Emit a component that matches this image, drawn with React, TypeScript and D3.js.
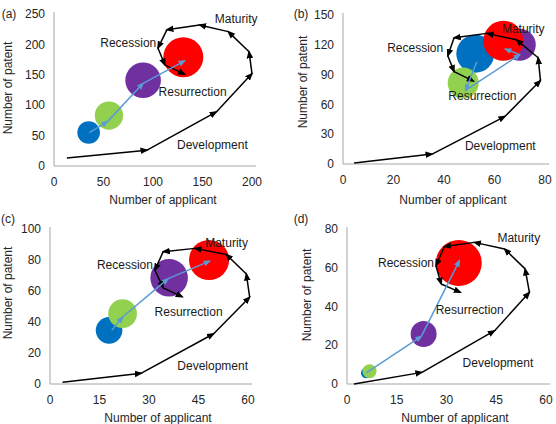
import React from "react";
import * as d3 from "d3";

// ---- data ----
type Pt = [number, number];
type Bubble = [number, number, number]; // x, y, size

const stageNames = ["Maturity", "Recession", "Resurrection", "Development"];
const bubbleColors = ["#0070c0", "#92d050", "#7030a0", "#ff0000"];

// panel (a)
const aXTicks = [0, 50, 100, 150, 200];
const aYTicks = [0, 50, 100, 150, 200, 250];
const aCycle: Pt[] = [[13, 13], [94, 26], [164, 89], [200, 152], [197, 188], [176, 221], [147, 232], [114, 224], [105, 194], [112, 166], [132, 151]];
const aBubbles: Bubble[] = [[35, 55, 128], [55.5, 83, 200], [90, 141, 317], [130.6, 179, 400]];
const aTrend: Pt[] = [[35.7, 55], [54, 73], [90, 136], [132, 173]];
const aLabels: Pt[] = [[184, 242], [75, 202], [140, 122], [160, 35]];

// panel (b)
const bXTicks = [0, 20, 40, 60, 80];
const bYTicks = [0, 30, 60, 90, 120, 150];
const bCycle: Pt[] = [[4.4, 1], [35.3, 10], [64.2, 48], [78.2, 84], [77.3, 107], [68.7, 125], [57, 131.5], [44, 127], [41.5, 109], [44, 93], [51.7, 83.5]];
const bBubbles: Bubble[] = [[52.4, 111, 361], [47.6, 81.5, 240], [70, 120, 256], [63.5, 124, 400]];
const bTrend: Pt[] = [[53, 103], [48.5, 74], [70, 110], [64.3, 115.8]];
const bLabels: Pt[] = [[71.4, 136], [28.6, 117], [55.2, 69], [62.3, 18.4]];

// panel (c)
const cXTicks = [0, 15, 30, 45, 60];
const cYTicks = [0, 20, 40, 60, 80, 100];
const cCycle: Pt[] = [[3.8, 1.1], [27.7, 7], [49.6, 32.4], [60.5, 56], [59.5, 71], [53.4, 83.6], [43.9, 87.5], [34.3, 85.4], [31.8, 73.5], [34.3, 62], [40.1, 56.2]];
const cBubbles: Bubble[] = [[17.9, 34.6, 177], [22, 45.4, 205], [36.1, 68.5, 353], [48.2, 80, 400]];
const cTrend: Pt[] = [[18.7, 34.6], [22, 43.2], [35.8, 68], [48.4, 79.3]];
const cLabels: Pt[] = [[53.5, 91.2], [22.7, 76.9], [42, 46.5], [49.3, 11.5]];

// panel (d)
const dXTicks = [0, 15, 30, 45, 60];
const dYTicks = [0, 20, 40, 60, 80];
const dCycle: Pt[] = [[2.1, 0], [22.6, 6], [44.5, 27.5], [55, 47.3], [53.7, 59.4], [47.5, 69.7], [38.4, 73.1], [29.4, 71], [26.8, 61.1], [28.4, 51.6], [34.2, 47.3]];
const dBubbles: Bubble[] = [[5.8, 5.7, 28], [6.8, 6.6, 49], [23.1, 25.8, 169], [33.7, 62.5, 529]];
const dTrend: Pt[] = [[5.8, 5.7], [22.4, 24.6], [33.9, 63.7]];
const dLabels: Pt[] = [[51.8, 75.7], [17.8, 62.8], [37, 38.5], [45.5, 11.2]];

const FONT = "'Liberation Sans', Arial, sans-serif";

type PanelProps = {
  tag: string;
  tagPos: Pt;
  left: number; right: number; top: number; bottom: number;
  xTicks: number[]; yTicks: number[];
  cycle: Pt[]; bubbles: Bubble[]; trend: Pt[]; labels: Pt[];
  yTitleX: number; yTitleY: number; xTitleX: number; xTitleY: number;
};

const Panel = (p: PanelProps) => {
  const x = d3.scaleLinear().domain([0, p.xTicks[p.xTicks.length - 1]]).range([p.left, p.right]);
  const y = d3.scaleLinear().domain([0, p.yTicks[p.yTicks.length - 1]]).range([p.bottom, p.top]);
  const r = d3.scaleSqrt().domain([0, 529]).range([0, 23]);
  const segs = (pts: Pt[]) => d3.pairs(pts);
  return (
    <g>
      <line x1={p.left} x2={p.left} y1={p.top - 2} y2={p.bottom} stroke="#a6a6a6" strokeWidth={1} />
      <line x1={p.left} x2={p.right + 4} y1={p.bottom} y2={p.bottom} stroke="#a6a6a6" strokeWidth={1} />
      {p.yTicks.map(t => (
        <text key={"y" + t} x={p.left - 9} y={y(t)} dy="0.35em" textAnchor="end" fontSize={12} fill="#262626">{t}</text>
      ))}
      {p.xTicks.map(t => (
        <text key={"x" + t} x={x(t)} y={p.bottom + 16} dy="0.35em" textAnchor="middle" fontSize={12} fill="#262626">{t}</text>
      ))}
      <text x={p.xTitleX} y={p.xTitleY} dy="0.35em" textAnchor="middle" fontSize={12} fill="#262626">Number of applicant</text>
      <text transform={`translate(${p.yTitleX},${p.yTitleY}) rotate(-90)`} dy="0.35em" textAnchor="middle" fontSize={12} fill="#262626">Number of patent</text>
      <text x={p.tagPos[0]} y={p.tagPos[1]} dy="0.35em" textAnchor="middle" fontSize={12} fill="#262626">{p.tag}</text>
      {p.bubbles.map((b, i) => (
        <circle key={"b" + i} cx={x(b[0])} cy={y(b[1])} r={r(b[2])} fill={bubbleColors[i]} />
      ))}
      {segs(p.cycle).map(([a, b], i) => (
        <line key={"c" + i} x1={x(a[0])} y1={y(a[1])} x2={x(b[0])} y2={y(b[1])} stroke="#000" strokeWidth={1.5} markerEnd="url(#arrowBlack)" />
      ))}
      {segs(p.trend).map(([a, b], i) => (
        <line key={"t" + i} x1={x(a[0])} y1={y(a[1])} x2={x(b[0])} y2={y(b[1])} stroke="#5b9bd5" strokeWidth={1.5} markerEnd="url(#arrowBlue)" />
      ))}
      {p.labels.map((l, i) => (
        <text key={"l" + i} x={x(l[0])} y={y(l[1])} dy="0.35em" textAnchor="middle" fontSize={12} fill="#1a1a1a">{stageNames[i]}</text>
      ))}
    </g>
  );
};

export default function App() {
  return (
    <div style={{ position: "absolute", left: 0, top: 0 }}>
      <svg width={556} height={424} style={{ display: "block", background: "#fff", fontFamily: FONT }}>
        <defs>
          <marker id="arrowBlack" viewBox="0 0 10 10" refX={8} refY={5} markerWidth={5.5} markerHeight={5.5} orient="auto" markerUnits="strokeWidth">
            <path d="M0,1 L10,5 L0,9 z" fill="#000" />
          </marker>
          <marker id="arrowBlue" viewBox="0 0 10 10" refX={8} refY={5} markerWidth={5} markerHeight={5} orient="auto" markerUnits="strokeWidth">
            <path d="M0,1 L10,5 L0,9 z" fill="#5b9bd5" />
          </marker>
        </defs>
        <Panel tag="(a)" tagPos={[9, 14]} left={54} right={252} top={14} bottom={166}
          xTicks={aXTicks} yTicks={aYTicks} cycle={aCycle} bubbles={aBubbles} trend={aTrend} labels={aLabels}
          yTitleX={8} yTitleY={88} xTitleX={163} xTitleY={200} />
        <Panel tag="(b)" tagPos={[301, 14]} left={343} right={545} top={15} bottom={164}
          xTicks={bXTicks} yTicks={bYTicks} cycle={bCycle} bubbles={bBubbles} trend={bTrend} labels={bLabels}
          yTitleX={303} yTitleY={82} xTitleX={453} xTitleY={200} />
        <Panel tag="(c)" tagPos={[8, 219]} left={50} right={248} top={229} bottom={384}
          xTicks={cXTicks} yTicks={cYTicks} cycle={cCycle} bubbles={cBubbles} trend={cTrend} labels={cLabels}
          yTitleX={8} yTitleY={293} xTitleX={158} xTitleY={418} />
        <Panel tag="(d)" tagPos={[301, 219]} left={347} right={546} top={229} bottom={384}
          xTicks={dXTicks} yTicks={dYTicks} cycle={dCycle} bubbles={dBubbles} trend={dTrend} labels={dLabels}
          yTitleX={307} yTitleY={295} xTitleX={455} xTitleY={418} />
      </svg>
    </div>
  );
}
